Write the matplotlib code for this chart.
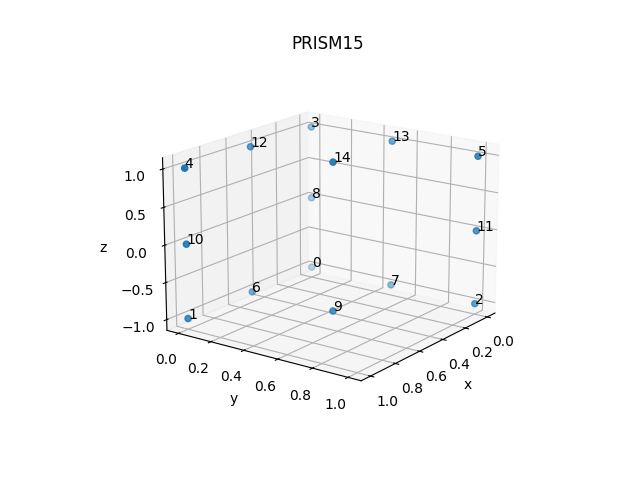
import matplotlib
matplotlib.use("Agg")
import matplotlib.pyplot as plt

xs = [0, 1, 0, 0, 1, 0, 0.5, 0, 0, 0.5, 1, 0, 0.5, 0, 0.5]
ys = [0, 0, 1, 0, 0, 1, 0, 0.5, 0, 0.5, 0, 1, 0, 0.5, 0.5]
zs = [-1, -1, -1, 1, 1, 1, -1, -1, 0, -1, 0, 0, 1, 1, 1]
labels = [str(i) for i in range(15)]

fig = plt.figure(figsize=(6.4, 4.8), dpi=100)
ax = fig.add_subplot(projection='3d')
ax.scatter(xs, ys, zs)
for x, y, z, t in zip(xs, ys, zs, labels):
    ax.text(x, y, z, t)
ax.set_xlabel('x')
ax.set_ylabel('y')
ax.set_zlabel('z')
ax.set_title('PRISM15')
ax.view_init(elev=17, azim=36)
fig.savefig('out.png')
